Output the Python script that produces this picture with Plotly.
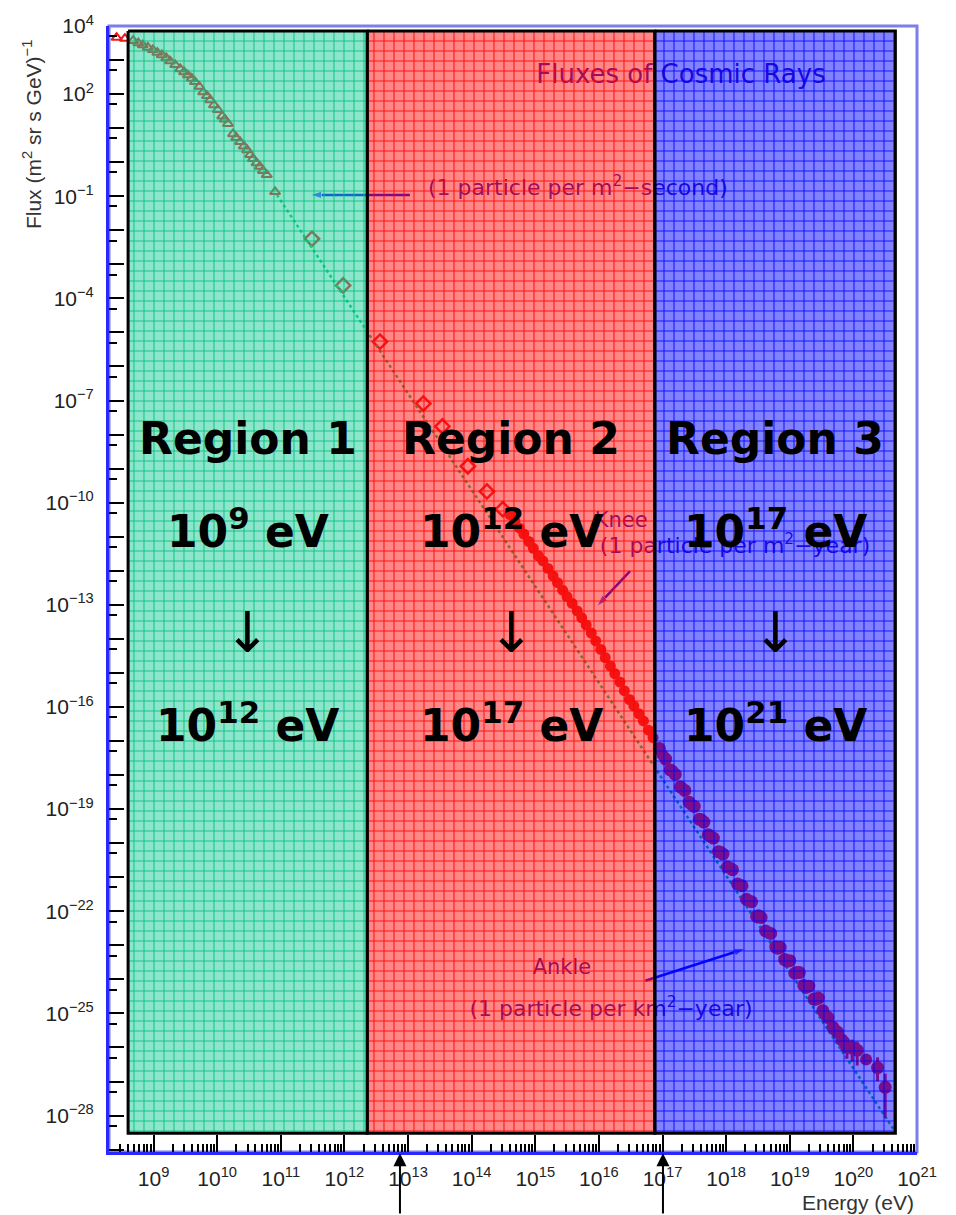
import plotly.graph_objects as go

# ---- measured spectrum: log10(E / eV) and log10(flux / (m^2 sr s GeV)^-1) ----
low_log_e = [8.42, 8.55, 8.68, 8.76, 8.83, 8.91, 8.99, 9.06, 9.13, 9.20, 9.26, 9.34,
             9.42, 9.48, 9.54, 9.60, 9.65, 9.72, 9.78, 9.84, 9.89, 9.95, 10.01, 10.08,
             10.12, 10.17, 10.25, 10.30, 10.36, 10.42, 10.47, 10.52, 10.56, 10.62,
             10.67, 10.72, 10.78, 10.91]
low_log_f = [3.66, 3.63, 3.57, 3.50, 3.44, 3.37, 3.30, 3.22, 3.15, 3.06, 2.97, 2.86,
             2.74, 2.65, 2.56, 2.46, 2.36, 2.22, 2.06, 1.95, 1.83, 1.68, 1.54, 1.35,
             1.26, 1.13, 0.83, 0.72, 0.60, 0.47, 0.36, 0.22, 0.10, -0.02,
             -0.13, -0.25, -0.37, -0.87]

mid_log_e = [11.49, 11.98, 12.56, 13.24, 13.54, 13.94, 14.24, 14.49]
mid_log_f = [-2.25, -3.62, -5.27, -7.09, -7.76, -8.93, -9.67, -10.19]

knee_log_e = [14.60, 14.68, 14.75, 14.82, 14.90, 14.97, 15.05, 15.12, 15.20, 15.28,
              15.35, 15.43, 15.50, 15.58, 15.66, 15.73, 15.80, 15.88, 15.95, 16.03,
              16.10, 16.18, 16.25, 16.33, 16.40, 16.48, 16.55, 16.63, 16.70, 16.78,
              16.85]
knee_log_f = [-10.35, -10.55, -10.74, -10.92, -11.14, -11.34, -11.56, -11.71, -11.93,
              -12.15, -12.35, -12.57, -12.76, -12.96, -13.18, -13.38, -13.59, -13.83,
              -14.06, -14.31, -14.55, -14.80, -15.02, -15.27, -15.52, -15.78, -15.97,
              -16.20, -16.41, -16.68, -16.90]

uhe_log_e = [16.95, 17.05, 17.12, 17.20, 17.28, 17.35, 17.42, 17.50, 17.58, 17.65,
             17.72, 17.80, 17.88, 17.95, 18.02, 18.10, 18.18, 18.25, 18.32, 18.40,
             18.48, 18.55, 18.62, 18.70, 18.78, 18.85, 18.92, 19.00, 19.08, 19.15,
             19.22, 19.30, 19.38, 19.45, 19.52, 19.60, 19.68, 19.75, 19.82, 19.90,
             19.98, 20.06, 20.38, 20.50]
uhe_log_f = [-17.22, -17.53, -17.85, -17.98, -18.35, -18.45, -18.80, -18.92, -19.30,
             -19.38, -19.75, -19.85, -20.25, -20.32, -20.70, -20.78, -21.20, -21.25,
             -21.65, -21.72, -22.15, -22.18, -22.58, -22.65, -23.05, -23.06, -23.42,
             -23.45, -23.82, -23.80, -24.18, -24.20, -24.58, -24.55, -24.92, -25.12,
             -25.41, -25.55, -25.78, -25.98, -26.02, -26.08, -26.59, -27.17]
uhe_err_up = [0.08] * 30 + [0.10, 0.10, 0.12, 0.12, 0.15, 0.18, 0.18, 0.20, 0.22,
                            0.22, 0.25, 0.25, 0.30, 0.40]
uhe_err_dn = [0.08] * 30 + [0.10, 0.10, 0.12, 0.15, 0.18, 0.20, 0.22, 0.28, 0.32,
                            0.35, 0.40, 0.45, 0.40, 0.90]

# second ultra-high-energy data set
uhe2_log_e = [17.00, 17.16, 17.31, 17.46, 17.61, 17.76, 17.91, 18.06, 18.21, 18.36,
              18.51, 18.66, 18.81, 18.96, 19.11, 19.26, 19.41, 19.56, 19.72, 19.86,
              20.02, 20.20]
uhe2_log_f = [-17.40, -17.88, -18.38, -18.88, -19.30, -19.82, -20.25, -20.72, -21.22,
              -21.70, -22.12, -22.62, -23.10, -23.48, -23.78, -24.25, -24.60, -25.05,
              -25.50, -25.85, -26.00, -26.35]

# power-law guide
fit_log_e = [10.94, 20.63]
fit_log_f = [-0.96, -28.40]

# ---- energy regions ----
region_names = ["Region 1", "Region 2", "Region 3"]
region_from = ["10<sup>9</sup> eV", "10<sup>12</sup> eV", "10<sup>17</sup> eV"]
region_to = ["10<sup>12</sup> eV", "10<sup>17</sup> eV", "10<sup>21</sup> eV"]
region_edges = [8.60, 12.36, 16.88, 20.66]
region_top, region_bottom = 3.85, -28.52
region_fill = ["rgba(27,205,153,0.5)", "rgba(255,15,15,0.5)", "rgba(5,5,255,0.5)"]
region_grid = ["rgb(0,190,125)", "rgb(255,0,0)", "rgb(0,0,255)"]

# ---- axis ticks ----
x_tick_exp = list(range(9, 22))
y_label_exp = [4, 2, -1, -4, -7, -10, -13, -16, -19, -22, -25, -28]


def lin(vals):
    return [10.0 ** v for v in vals]


def sup(e):
    return "10<sup>" + str(e).replace("-", "\u2212") + "</sup>"


RED = "rgb(235,25,25)"
TXT = "rgb(55,10,185)"
ARROW = "rgb(0,0,255)"

fig = go.Figure()

fig.add_trace(go.Scatter(
    x=lin(low_log_e), y=lin(low_log_f), mode="markers",
    marker=dict(symbol="triangle-up-open", size=9, color=RED, line=dict(width=2, color=RED))))
fig.add_trace(go.Scatter(
    x=lin(mid_log_e), y=lin(mid_log_f), mode="markers",
    marker=dict(symbol="diamond-open", size=11, color=RED, line=dict(width=2.5, color=RED))))
fig.add_trace(go.Scatter(
    x=lin(fit_log_e), y=lin(fit_log_f), mode="lines",
    line=dict(color="rgb(0,200,90)", width=2.5, dash="dot")))
fig.add_trace(go.Scatter(
    x=lin(knee_log_e), y=lin(knee_log_f), mode="markers",
    marker=dict(symbol="circle", size=11, color=RED)))

fig.add_trace(go.Scatter(
    x=lin(uhe_log_e), y=lin(uhe_log_f), mode="markers",
    marker=dict(symbol="circle", size=13, color=RED),
    error_y=dict(type="data", symmetric=False, color=RED, thickness=3, width=0,
                 array=[10.0 ** (f + u) - 10.0 ** f for f, u in zip(uhe_log_f, uhe_err_up)],
                 arrayminus=[10.0 ** f - 10.0 ** (f - d) for f, d in zip(uhe_log_f, uhe_err_dn)])))
fig.add_trace(go.Scatter(
    x=lin(uhe2_log_e), y=lin(uhe2_log_f), mode="markers",
    marker=dict(symbol="circle", size=12, color=RED)))

# labels of the spectrum plot
plot_texts = [
    (17.29, 2.53, "Fluxes of Cosmic Rays", 26),
    (15.67, -0.81, "(1 particle per m<sup>2</sup>\u2212second)", 22),
    (16.35, -10.57, "Knee", 21),
    (18.14, -11.31, "(1 particle per m<sup>2</sup>\u2212year)", 22),
    (15.42, -23.68, "Ankle", 21),
    (16.19, -24.91, "(1 particle per km<sup>2</sup>\u2212year)", 22),
]
for lx, ly, t, s in plot_texts:
    fig.add_trace(go.Scatter(
        x=[10.0 ** lx], y=[10.0 ** ly], mode="text", text=[t],
        textposition="middle center",
        textfont=dict(family="DejaVu Sans", size=s, color=TXT)))

plot_arrows = [
    ((13.03, -0.96), (11.46, -0.96)),
    ((16.49, -12.01), (15.97, -13.04)),
    ((16.73, -24.04), (18.30, -23.10)),
]
for (tx, ty), (hx, hy) in plot_arrows:
    fig.add_trace(go.Scatter(
        x=[10.0 ** tx, 10.0 ** hx], y=[10.0 ** ty, 10.0 ** hy], mode="lines+markers",
        line=dict(color=ARROW, width=2.5),
        marker=dict(symbol=["circle", "arrow"], size=[0, 12], angleref="previous",
                    color=ARROW)))

# translucent gridded region panels
for i in range(3):
    lo, hi = region_edges[i], region_edges[i + 1]
    fig.add_trace(go.Scatter(
        x=lin([lo, hi, hi, lo, lo]),
        y=lin([region_top, region_top, region_bottom, region_bottom, region_top]),
        mode="lines", fill="toself", fillcolor=region_fill[i],
        fillpattern=dict(shape="+", size=10, solidity=0.2, fillmode="overlay",
                         bgcolor=region_fill[i], fgcolor=region_grid[i], fgopacity=0.85),
        line=dict(color="black", width=3), hoverinfo="skip"))

# region captions
big = dict(family="DejaVu Sans", size=44, color="black")
arrow_font = dict(family="DejaVu Sans", size=56, color="black")
row_y = [0.634, 0.554, 0.461, 0.381]
for i in range(3):
    cx = (region_edges[i] + region_edges[i + 1]) / 2
    rows = ["<b>" + region_names[i] + "</b>", "<b>" + region_from[i] + "</b>",
            "\u2193", "<b>" + region_to[i] + "</b>"]
    for r, (ry, txt) in enumerate(zip(row_y, rows)):
        fig.add_annotation(x=cx, xref="x", y=ry, yref="paper", text=txt,
                           showarrow=False, font=arrow_font if r == 2 else big,
                           xanchor="center", yanchor="middle")

# markers under the energy axis
for ax_x in [0.3601, 0.6856]:
    fig.add_annotation(x=ax_x, y=-0.001, xref="paper", yref="paper", text="",
                       showarrow=True, ax=0, ay=64, axref="pixel", ayref="pixel",
                       arrowhead=2, arrowsize=1.3, arrowwidth=2, arrowcolor="black",
                       standoff=0)

title_font = dict(family="Liberation Sans", size=21, color="#333")
fig.add_annotation(x=-0.0953, y=0.904, xref="paper", yref="paper",
                   xanchor="center", yanchor="middle",
                   text="Flux (m<sup>2</sup> sr s GeV)<sup>\u22121</sup>", textangle=-90,
                   showarrow=False, font=title_font)
fig.add_annotation(x=0.927, y=-0.045, xref="paper", yref="paper", text="Energy (eV)",
                   xanchor="center", yanchor="middle",
                   showarrow=False, font=title_font)

# outer frame
fig.add_shape(type="rect", xref="paper", yref="paper", x0=0, x1=1, y0=0, y1=1,
              line=dict(color="rgb(125,125,235)", width=3), layer="below")

tick_font = dict(family="Liberation Sans", size=21, color="#222")
fig.update_xaxes(
    type="log", range=[8.3, 21.0], showgrid=False, zeroline=False,
    showline=True, linecolor="rgb(40,40,255)", linewidth=3,
    ticks="inside", ticklen=17, tickwidth=2, tickcolor="black",
    tickmode="array", tickvals=[10.0 ** k for k in x_tick_exp],
    ticktext=[sup(k) for k in x_tick_exp], tickfont=tick_font, ticklabelstandoff=6,
    minor=dict(ticks="inside", ticklen=8, tickwidth=1.5, tickcolor="black",
               dtick="D1", showgrid=False))
y_major = list(range(-29, 5))
fig.update_yaxes(
    type="log", range=[-29.07, 4.0], showgrid=False, zeroline=False,
    showline=True, linecolor="rgb(40,40,255)", linewidth=3,
    ticks="inside", ticklen=15, tickwidth=2, tickcolor="black",
    tickmode="array", tickvals=[10.0 ** k for k in y_major],
    ticktext=[sup(k) if k in y_label_exp else "" for k in y_major],
    tickfont=tick_font, ticklabelstandoff=8,
    minor=dict(ticks="inside", ticklen=8, tickwidth=2, tickcolor="black",
               tickmode="array", tickvals=[5 * 10.0 ** k for k in range(-30, 4)],
               showgrid=False))

fig.update_layout(
    width=956, height=1215, autosize=False,
    margin=dict(l=109, r=39, t=24, b=63),
    plot_bgcolor="white", paper_bgcolor="white", showlegend=False)

fig.write_html("out.html")
